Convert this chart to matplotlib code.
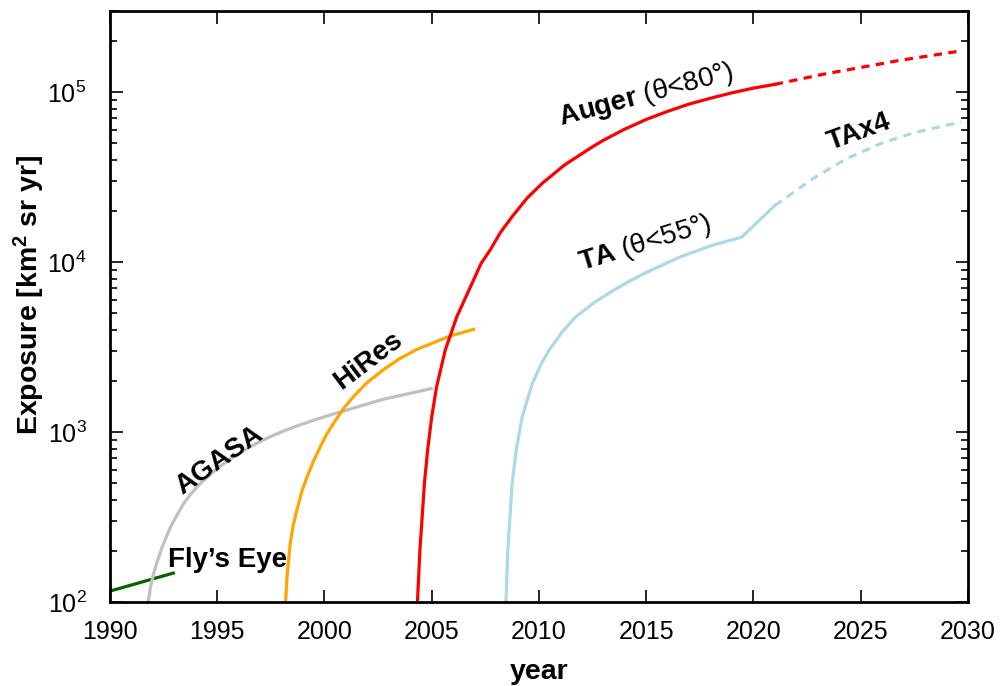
import numpy as np
import matplotlib
matplotlib.use("Agg")
import matplotlib.pyplot as plt
from matplotlib.ticker import LogLocator, NullFormatter

plt.rcParams['font.family'] = ['Liberation Sans', 'DejaVu Sans']
plt.rcParams['mathtext.fontset'] = 'custom'
plt.rcParams['mathtext.rm'] = 'Liberation Sans'
plt.rcParams['mathtext.bf'] = 'Liberation Sans:bold'
plt.rcParams['mathtext.it'] = 'Liberation Sans:italic'

# exposure curves (year, km^2 sr yr)
fly_year = [1990.0, 1992.95]
fly_exp = [116, 148]

agasa_year = [1991.76, 1991.89, 1992.0, 1992.12, 1992.43, 1992.82, 1993.0,
              1993.44, 1993.8, 1994.22, 1995.0, 1995.77, 1996.5, 1997.33,
              1998.1, 1998.88, 1999.9, 2000.89, 2002.75, 2004.98]
agasa_exp = [97, 123, 142, 161, 211, 277, 305, 381, 437, 500, 612, 718, 815,
             922, 1015, 1105, 1220, 1330, 1560, 1800]

hires_year = [1998.18, 1998.25, 1998.40, 1998.55, 1998.71, 1998.95, 1999.19,
              1999.5, 1999.81, 2000.1, 2000.43, 2000.9, 2001.36, 2002.0,
              2002.75, 2003.5, 2004.30, 2005.85, 2006.96]
hires_exp = [97, 140, 221, 285, 347, 450, 547, 680, 822, 970, 1130, 1380,
             1620, 1960, 2330, 2700, 3060, 3670, 4020]

auger_year = [2004.33, 2004.45, 2004.66, 2004.81, 2005.0, 2005.23, 2005.63,
              2006.17, 2006.88, 2007.3, 2007.73, 2008.2, 2008.75, 2009.45,
              2010.16, 2011.2, 2012.42, 2013.0, 2014.0, 2015.0, 2016.0,
              2017.0, 2018.0, 2019.0, 2020.0, 2021.0]
auger_exp = [97, 202, 499, 783, 1230, 1850, 3030, 4770, 7490, 9800, 11800,
             14900, 18500, 23800, 29100, 37300, 47000, 52000, 60500, 69000,
             77000, 85000, 92000, 99000, 105500, 111000]

auger_proj_year = [2021.0, 2023.28, 2026.87, 2029.6]
auger_proj_exp = [111000, 127500, 154000, 174000]

ta_year = [2008.46, 2008.55, 2008.75, 2008.94, 2009.22, 2009.69, 2010.1,
           2010.47, 2011.1, 2011.72, 2012.6, 2013.46, 2014.2, 2015.02,
           2016.57, 2018.12, 2019.45, 2021.0]
ta_exp = [97, 202, 499, 783, 1230, 1930, 2510, 3030, 3900, 4770, 5800, 6800,
          7700, 8700, 10700, 12600, 14000, 21500]

ta_proj_year = [2021.0, 2022.78, 2024.33, 2025.89, 2027.44, 2029.69]
ta_proj_exp = [21500, 31000, 40500, 49500, 57500, 66700]

fig = plt.figure(figsize=(10.05, 6.86), dpi=100)
ax = fig.add_axes([0.1095, 0.1224, 0.8535, 0.8616])

lw = 2.3
ax.plot(fly_year, fly_exp, color='#006400', lw=lw)
ax.plot(agasa_year, agasa_exp, color='#c0c0c0', lw=lw)
ax.plot(hires_year, hires_exp, color='#ffa500', lw=lw)
ax.plot(auger_year, auger_exp, color='#ff0000', lw=lw)
ax.plot(auger_proj_year, auger_proj_exp, color='#ff0000', lw=lw, dashes=(2.6, 2.0))
ax.plot(ta_year, ta_exp, color='#add8e6', lw=lw)
ax.plot(ta_proj_year, ta_proj_exp, color='#add8e6', lw=lw, dashes=(2.6, 2.0))

ax.set_yscale('log')
ax.set_xlim(1990, 2030)
ax.set_ylim(100, 3e5)
ax.set_xticks(np.arange(1990, 2031, 5))
ax.yaxis.set_major_locator(LogLocator(base=10, numticks=10))
ax.yaxis.set_minor_locator(LogLocator(base=10, subs=np.arange(2, 10), numticks=20))
ax.yaxis.set_minor_formatter(NullFormatter())

ax.tick_params(which='both', direction='in', top=True, right=True, width=1.2)
ax.tick_params(which='major', length=9, labelsize=18)
ax.tick_params(axis='x', which='major', pad=13)
ax.tick_params(axis='y', which='major', pad=17)
ax.tick_params(which='minor', length=5)
for s in ax.spines.values():
    s.set_linewidth(2.0)

ax.set_xlabel('year', fontsize=20.5, fontweight='bold', labelpad=11)
ax.set_ylabel(r'Exposure [km$^\mathbf{2}$ sr yr]', fontsize=20.5, fontweight='bold')
ax.yaxis.set_label_coords(-0.073, 0.52)

# labels on the curves
tsize = 20
ax.text(1995.5, 177, 'Fly\u2019s Eye', fontsize=tsize, fontweight='bold',
        ha='center', va='center')
ax.text(1995.1, 680, 'AGASA', fontsize=tsize, fontweight='bold',
        ha='center', va='center', rotation=35)
ax.text(2002.05, 2610, 'HiRes', fontsize=tsize, fontweight='bold',
        ha='center', va='center', rotation=37)
ax.text(2015.0, 96000, r'$\mathbf{Auger}$ (θ<80°)', fontsize=tsize,
        ha='center', va='center', rotation=15)
ax.text(2014.95, 12800, r'$\mathbf{TA}$ (θ<55°)', fontsize=tsize,
        ha='center', va='center', rotation=17)
ax.text(2024.93, 58100, 'TAx4', fontsize=tsize, fontweight='bold',
        ha='center', va='center', rotation=20)

fig.savefig('out.png', dpi=100)
